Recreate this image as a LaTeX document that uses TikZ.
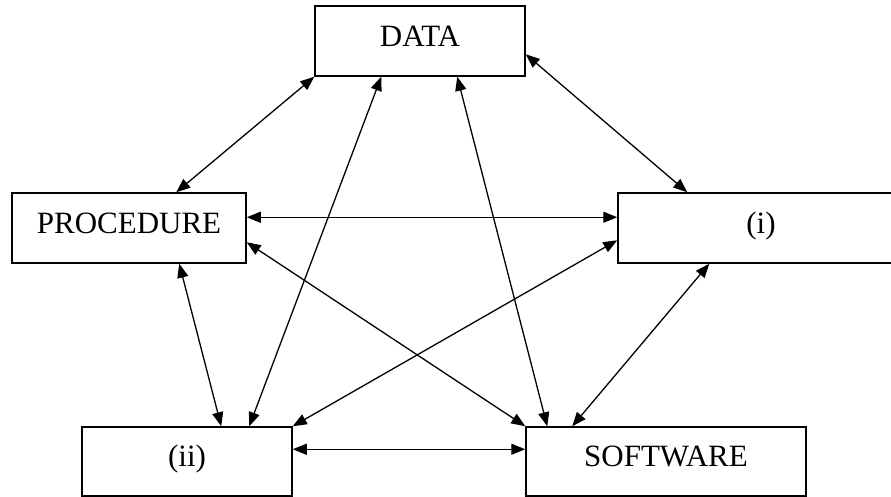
\documentclass[tikz,border=0pt]{standalone}
\usepackage{fontspec}
\setmainfont{Liberation Serif}
\usetikzlibrary{arrows.meta,calc}

\begin{document}
\begin{tikzpicture}[x=0.5pt, y=-0.5pt, >={Triangle[length=7pt,width=5.5pt]},
  box/.style={draw, line width=0.75pt, inner sep=0pt, text height=10.3pt,
    text depth=5pt, font=\fontsize{15.5}{18}\selectfont},
  link/.style={<->, line width=0.65pt}]
  \clip (0,0) rectangle (891,497);
  % boxes
  \node[box, minimum width=105pt, minimum height=35pt] (data) at (420,41) {DATA};
  \node[box, minimum width=117pt, minimum height=35pt] (proc) at (129,228) {PROCEDURE};
  \node[box, minimum width=143pt, minimum height=35pt] (parti) at (761,228) {(i)};
  \node[box, minimum width=105pt, minimum height=34.5pt] (partii) at (187,461.5) {(ii)};
  \node[box, minimum width=140pt, minimum height=34.5pt] (soft) at (666,461.5) {SOFTWARE};
  % links from DATA
  \draw[link] (data.south west) -- ($(proc.north west)+(165,0)$);
  \draw[link] ($(data.north east)+(0,49)$) -- ($(parti.north west)+(70,0)$);
  \draw[link] ($(data.south west)+(67,0)$) -- ($(partii.north west)+(168,0)$);
  \draw[link] ($(data.south west)+(143,0)$) -- ($(soft.north west)+(22,0)$);
  % links from PROCEDURE
  \draw[link] ($(proc.north east)+(0,25)$) -- ($(parti.north west)+(0,25)$);
  \draw[link] ($(proc.north east)+(0,50)$) -- (soft.north west);
  \draw[link] ($(proc.south west)+(168,0)$) -- ($(partii.north west)+(140,0)$);
  % links from (i)
  \draw[link] ($(parti.north west)+(0,48)$) -- (partii.north east);
  \draw[link] ($(parti.south west)+(92,0)$) -- ($(soft.north west)+(47,0)$);
  % link (ii) -- SOFTWARE
  \draw[link] ($(partii.north east)+(0,23)$) -- ($(soft.north west)+(0,23)$);
\end{tikzpicture}
\end{document}
